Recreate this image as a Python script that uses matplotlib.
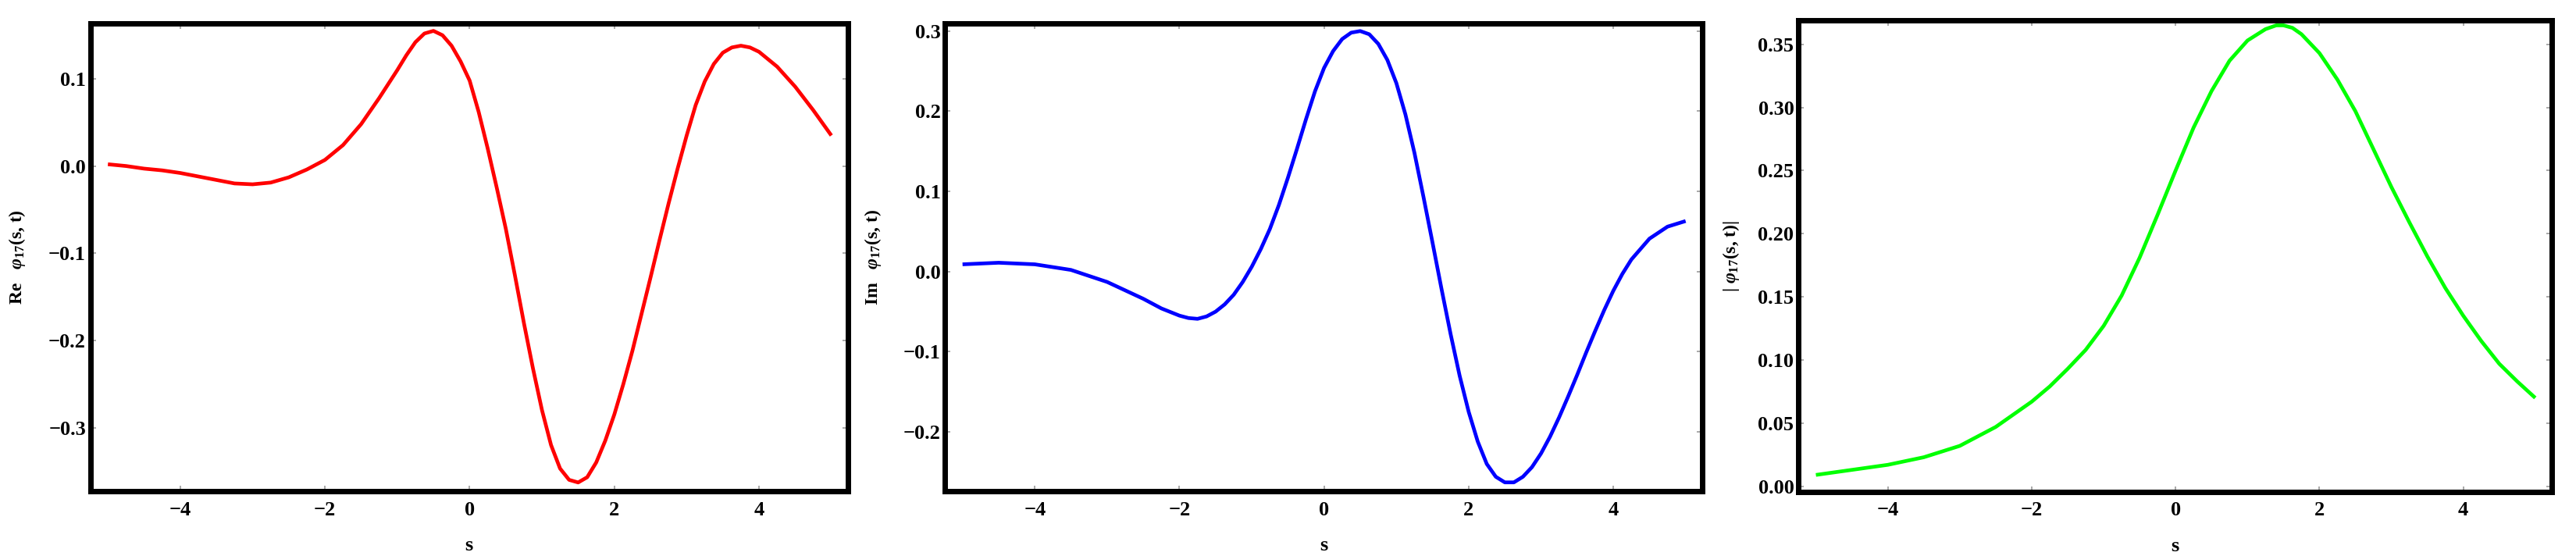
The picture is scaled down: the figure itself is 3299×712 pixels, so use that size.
import matplotlib
matplotlib.use("Agg")
import matplotlib.pyplot as plt

# ---------------- data ----------------
s_re = [-5.0, -4.75, -4.5, -4.25, -4.0, -3.75, -3.5, -3.25, -3.0, -2.75, -2.5, -2.25,
        -2.0, -1.75, -1.5, -1.25, -1.0, -0.875, -0.75, -0.625, -0.5, -0.375, -0.25,
        -0.125, 0.0, 0.125, 0.25, 0.375, 0.5, 0.625, 0.75, 0.875, 1.0, 1.125, 1.25,
        1.375, 1.5, 1.625, 1.75, 1.875, 2.0, 2.125, 2.25, 2.375, 2.5, 2.625, 2.75,
        2.875, 3.0, 3.125, 3.25, 3.375, 3.5, 3.625, 3.75, 3.875, 4.0, 4.25, 4.5,
        4.75, 5.0]
re_vals = [0.002, 0.000, -0.003, -0.005, -0.008, -0.012, -0.016, -0.020, -0.021, -0.019,
           -0.013, -0.004, 0.007, 0.024, 0.048, 0.078, 0.110, 0.127, 0.142, 0.152,
           0.155, 0.150, 0.138, 0.120, 0.098, 0.062, 0.020, -0.025, -0.072, -0.125,
           -0.180, -0.232, -0.280, -0.320, -0.347, -0.360, -0.363, -0.357, -0.340,
           -0.315, -0.285, -0.250, -0.212, -0.170, -0.128, -0.085, -0.043, -0.003,
           0.035, 0.070, 0.097, 0.117, 0.130, 0.136, 0.138, 0.136, 0.131, 0.114,
           0.091, 0.064, 0.035]

s_im = [-5.0, -4.5, -4.0, -3.5, -3.0, -2.5, -2.25, -2.0, -1.875, -1.75, -1.625, -1.5,
        -1.375, -1.25, -1.125, -1.0, -0.875, -0.75, -0.625, -0.5, -0.375, -0.25,
        -0.125, 0.0, 0.125, 0.25, 0.375, 0.5, 0.625, 0.75, 0.875, 1.0, 1.125, 1.25,
        1.375, 1.5, 1.625, 1.75, 1.875, 2.0, 2.125, 2.25, 2.375, 2.5, 2.625, 2.75,
        2.875, 3.0, 3.125, 3.25, 3.375, 3.5, 3.625, 3.75, 3.875, 4.0, 4.125, 4.25,
        4.5, 4.75, 5.0]
im_vals = [0.009, 0.011, 0.009, 0.002, -0.013, -0.034, -0.046, -0.055, -0.058, -0.059,
           -0.056, -0.050, -0.041, -0.029, -0.013, 0.006, 0.028, 0.053, 0.083, 0.117,
           0.153, 0.190, 0.225, 0.254, 0.275, 0.290, 0.298, 0.300, 0.296, 0.284,
           0.264, 0.235, 0.196, 0.148, 0.093, 0.036, -0.022, -0.078, -0.130, -0.175,
           -0.212, -0.240, -0.256, -0.263, -0.263, -0.256, -0.244, -0.227, -0.206,
           -0.182, -0.156, -0.129, -0.101, -0.074, -0.048, -0.024, -0.003, 0.015,
           0.041, 0.056, 0.063]

s_abs = [-5.0, -4.5, -4.0, -3.5, -3.0, -2.5, -2.0, -1.75, -1.5, -1.25, -1.0, -0.75,
         -0.5, -0.25, 0.0, 0.25, 0.5, 0.75, 1.0, 1.25, 1.4, 1.5, 1.625, 1.75, 2.0,
         2.25, 2.5, 2.75, 3.0, 3.25, 3.5, 3.75, 4.0, 4.25, 4.5, 4.75, 5.0]
abs_vals = [0.009, 0.013, 0.017, 0.023, 0.032, 0.047, 0.067, 0.079, 0.093, 0.108,
            0.127, 0.151, 0.181, 0.215, 0.250, 0.284, 0.313, 0.337, 0.353, 0.362,
            0.365, 0.365, 0.363, 0.358, 0.343, 0.322, 0.297, 0.267, 0.237, 0.209,
            0.182, 0.157, 0.135, 0.115, 0.097, 0.083, 0.070]

x_ticks = [-4, -2, 0, 2, 4]
re_ticks = [0.1, 0.0, -0.1, -0.2, -0.3]
im_ticks = [0.3, 0.2, 0.1, 0.0, -0.1, -0.2]
abs_ticks = [0.0, 0.05, 0.10, 0.15, 0.20, 0.25, 0.30, 0.35]

ylabels = [r"Re   $\varphi_{\mathrm{17}}$(s, t)",
           r"Im   $\varphi_{\mathrm{17}}$(s, t)",
           r"| $\varphi_{\mathrm{17}}$(s, t)|"]

# ---------------- style ----------------
plt.rcParams["font.family"] = ["Liberation Serif", "DejaVu Serif"]
plt.rcParams["font.weight"] = "bold"
plt.rcParams["mathtext.fontset"] = "custom"
plt.rcParams["mathtext.rm"] = "Liberation Serif:bold"
plt.rcParams["mathtext.it"] = "Liberation Serif:italic:bold"
plt.rcParams["mathtext.bf"] = "Liberation Serif:bold"

fig = plt.figure(figsize=(32.99, 7.12), dpi=100)

W, H = 3299.0, 712.0
rects = [
    (115.5 / W, 1 - 629 / H, (1086 - 115.5) / W, (629 - 29.5) / H),
    (1210 / W, 1 - 629 / H, (2180 - 1210) / W, (629 - 29.5) / H),
    (2303 / W, 1 - 630 / H, (3268 - 2303) / W, (630 - 26) / H),
]

series = [
    (s_re, re_vals, "#ff0000", re_ticks, (-0.373, 0.164), "%.1f"),
    (s_im, im_vals, "#0000ff", im_ticks, (-0.274, 0.310), "%.1f"),
    (s_abs, abs_vals, "#00ff00", abs_ticks, (-0.0045, 0.369), "%.2f"),
]
label_x = [-0.083, -0.081, -0.076]

for i, (rect, (xs, ys, col, yt, ylim, fmt)) in enumerate(zip(rects, series)):
    ax = fig.add_axes(rect)
    ax.plot(xs, ys, color=col, lw=3.4, solid_capstyle="butt", solid_joinstyle="round")
    ax.set_xlim(-5.245, 5.23)
    ax.set_ylim(*ylim)
    ax.set_xticks(x_ticks)
    ax.set_yticks(yt)
    ax.set_yticklabels([(fmt % v).replace("-", "\u2212") for v in yt])
    ax.set_xticklabels([str(v).replace("-", "\u2212") for v in x_ticks])
    for sp in ax.spines.values():
        sp.set_linewidth(5.0)
        sp.set_color("black")
    ax.tick_params(direction="in", length=5, width=1.2, color="#9a9a9a",
                   top=True, right=True, labelsize=19)
    ax.tick_params(axis="x", pad=9)
    ax.tick_params(axis="y", pad=4)
    for lab in ax.get_xticklabels() + ax.get_yticklabels():
        lab.set_fontweight("bold")
    ax.set_xlabel("s", fontsize=19, fontweight="bold", labelpad=16)
    ax.set_ylabel(ylabels[i], fontsize=17, fontweight="bold")
    ax.yaxis.set_label_coords(label_x[i], 0.5)

fig.savefig("out.png", dpi=100)
